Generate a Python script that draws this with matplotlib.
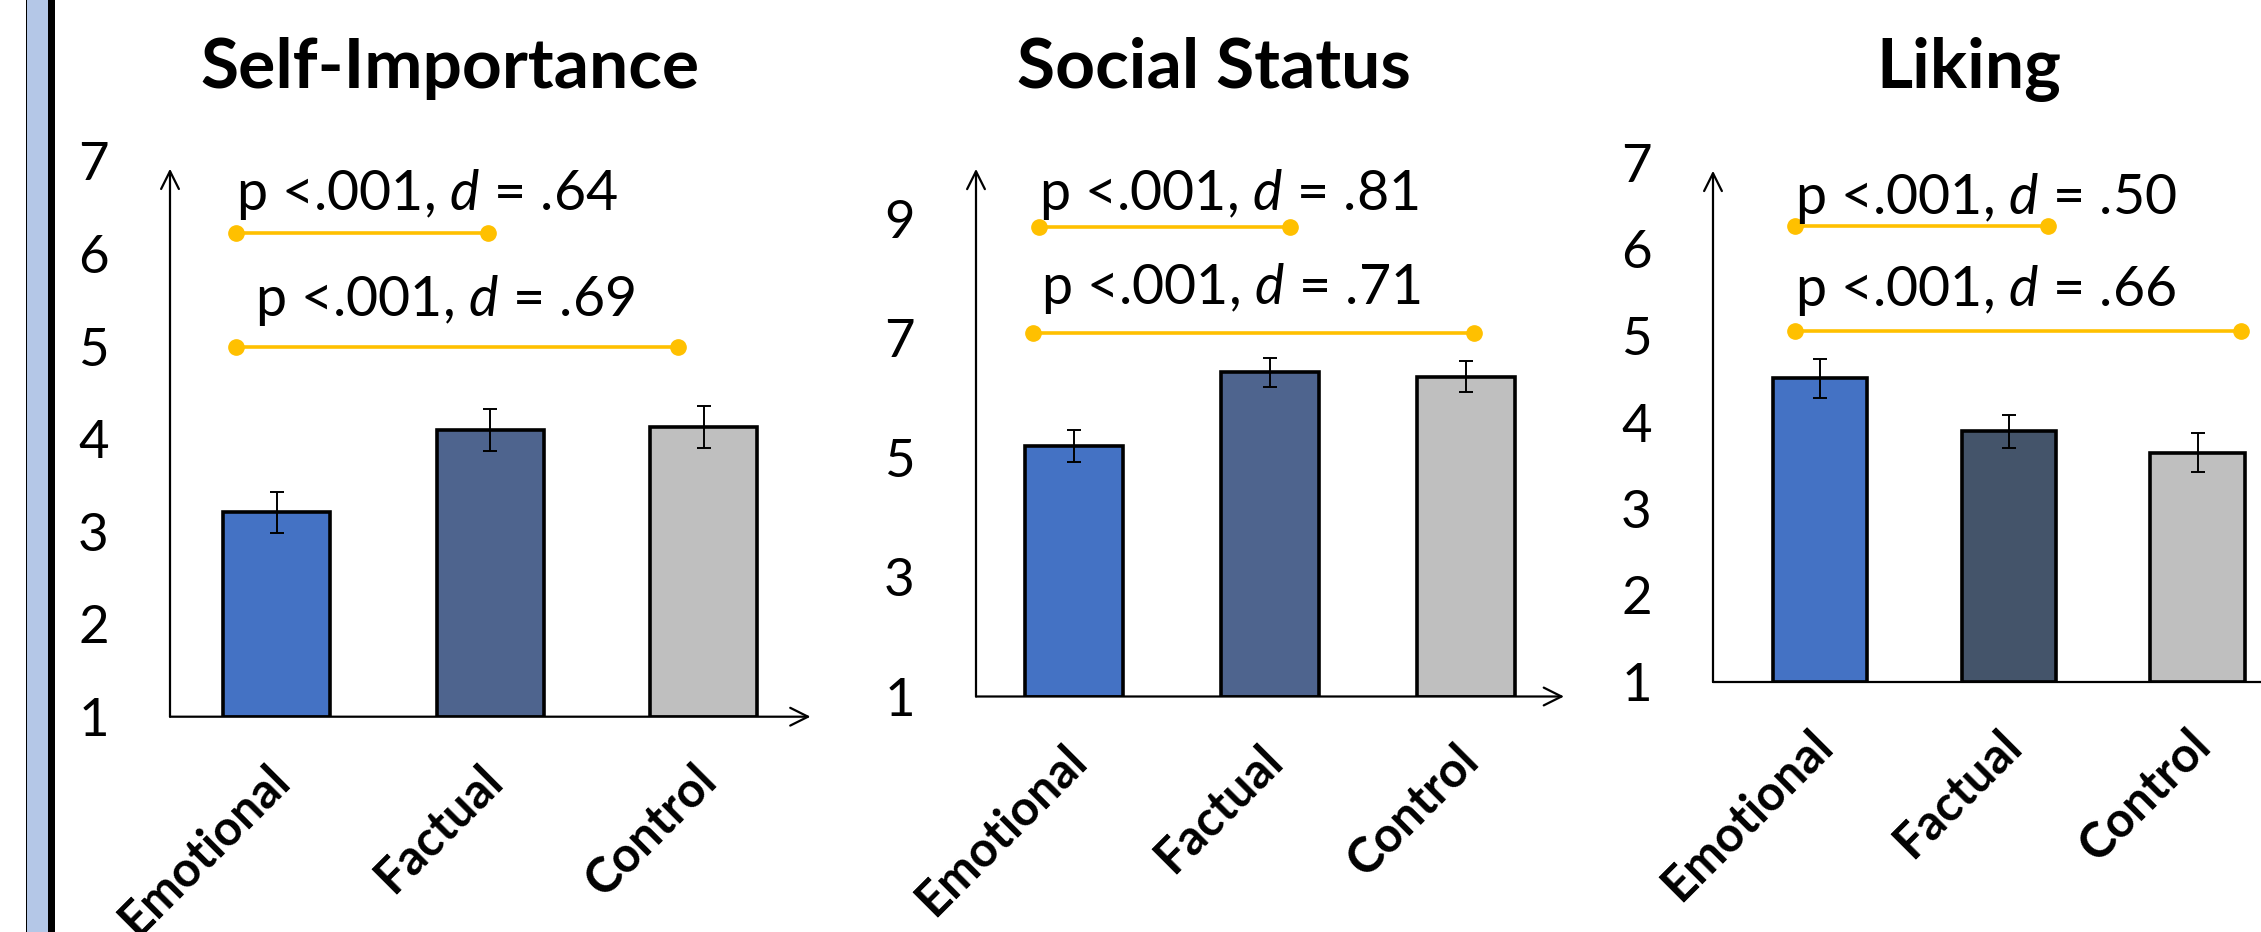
import matplotlib
matplotlib.use("Agg")
import matplotlib.pyplot as plt
from matplotlib.patches import Rectangle
import numpy as np

plt.rcParams['font.family'] = ['Lato', 'DejaVu Sans']
plt.rcParams['mathtext.fontset'] = 'custom'
plt.rcParams['mathtext.rm'] = 'Lato'
plt.rcParams['mathtext.it'] = 'Lato:italic'

# ---------------- data ----------------
categories = ["Emotional", "Factual", "Control"]
titles = ["Self-Importance", "Social Status", "Liking"]

self_importance_means = [3.21, 4.10, 4.13]
self_importance_errs = [0.22, 0.225, 0.23]
social_status_means = [5.20, 6.43, 6.36]
social_status_errs = [0.265, 0.245, 0.265]
liking_means = [4.51, 3.90, 3.65]
liking_errs = [0.225, 0.19, 0.225]

yticks_self = [1, 2, 3, 4, 5, 6, 7]
yticks_status = [1, 3, 5, 7, 9]
yticks_liking = [1, 2, 3, 4, 5, 6, 7]

# significance annotations: (effect size d, line y, line x-start, line x-end, text y)
sig_self = [(".64", 6.23, -0.19, 0.99, 6.64), (".69", 5.00, -0.19, 1.88, 5.50)]
sig_status = [(".81", 8.87, -0.18, 1.10, 9.41), (".71", 7.09, -0.21, 2.04, 7.84)]
sig_liking = [(".50", 6.27, -0.13, 1.21, 6.59), (".66", 5.06, -0.13, 2.23, 5.53)]

# ---------------- figure ----------------
W, H = 2261, 932
fig = plt.figure(figsize=(W / 100, H / 100), dpi=100)

# left decorative border
fig.add_artist(Rectangle((27 / W, 0), 21 / W, 1, transform=fig.transFigure,
                         facecolor="#B4C7E7", edgecolor="none"))
fig.add_artist(Rectangle((25.5 / W, 0), 1.8 / W, 1, transform=fig.transFigure,
                         facecolor="black", edgecolor="none"))
fig.add_artist(Rectangle((48 / W, 0), 7 / W, 1, transform=fig.transFigure,
                         facecolor="black", edgecolor="none"))


def px_axes(left, top, right, bottom):
    return fig.add_axes([left / W, 1 - bottom / H, (right - left) / W, (bottom - top) / H])


panels = [
    dict(ax=px_axes(170, 161.5, 810.5, 716.7), means=self_importance_means, errs=self_importance_errs,
         yticks=yticks_self, ylim=(1, 7), xlim=(-0.5, 2.5), arrow_top=0.987,
         sig=sig_self, title=titles[0], title_x=450,
         colors=["#4472C4", "#4E648E", "#BFBFBF"], text_dx=[0.0, 0.09]),
    dict(ax=px_axes(976, 159.2, 1564, 696.5), means=social_status_means, errs=social_status_errs,
         yticks=yticks_status, ylim=(1, 10), xlim=(-0.5, 2.5), arrow_top=0.982,
         sig=sig_status, title=titles[1], title_x=1214,
         colors=["#4472C4", "#4E648E", "#BFBFBF"], text_dx=[0.0, 0.04]),
    dict(ax=px_axes(1713, 163, 2292, 682), means=liking_means, errs=liking_errs,
         yticks=yticks_liking, ylim=(1, 7), xlim=(-0.566, 2.5), arrow_top=0.985,
         sig=sig_liking, title=titles[2], title_x=1969,
         colors=["#4472C4", "#44546A", "#BFBFBF"], text_dx=[0.0, 0.0]),
]

x = np.arange(len(categories))
for p in panels:
    ax = p["ax"]
    base = p["ylim"][0]
    means = np.array(p["means"])
    ax.bar(x, means - base, bottom=base, width=0.5, color=p["colors"],
           edgecolor="black", linewidth=2.6, zorder=2)
    ax.errorbar(x, means, yerr=p["errs"], fmt="none", ecolor="black",
                elinewidth=1.4, capsize=5, capthick=1.4, zorder=3)
    ax.set_xlim(*p["xlim"])
    ax.set_ylim(*p["ylim"])
    ax.set_yticks(p["yticks"])
    ax.set_yticklabels([str(t) for t in p["yticks"]])
    ax.set_xticks([])
    # rotated category labels
    for xi, cat in zip(x, categories):
        ax.annotate(cat, xy=(xi, base), xycoords="data", xytext=(-8, -29),
                    textcoords="offset points", rotation=45, ha="right", va="top",
                    rotation_mode="anchor", fontweight="bold", fontsize=35,
                    annotation_clip=False)
    ax.tick_params(axis="y", length=0, pad=44, labelsize=38)
    for s in ax.spines.values():
        s.set_visible(False)
    ax.patch.set_alpha(0)
    # arrowed axes
    ax.annotate("", xy=(0, p["arrow_top"]), xytext=(0, 0), xycoords="axes fraction",
                arrowprops=dict(arrowstyle="->", lw=1.6, color="black", mutation_scale=32,
                                shrinkA=0, shrinkB=0), annotation_clip=False)
    ax.annotate("", xy=(1, 0), xytext=(0, 0), xycoords="axes fraction",
                arrowprops=dict(arrowstyle="->", lw=1.6, color="black", mutation_scale=32,
                                shrinkA=0, shrinkB=0), annotation_clip=False)
    # significance lines
    for (d, ly, x0, x1, ty), dx in zip(p["sig"], p["text_dx"]):
        ax.plot([x0, x1], [ly, ly], color="#FFC000", lw=2.6, marker="o",
                markersize=11, solid_capstyle="butt", zorder=4, clip_on=False)
        ax.text(x0 + dx, ty, r"p <.001, $d$ = " + d, fontsize=40, ha="left",
                va="center", zorder=5, clip_on=False)
    fig.text(p["title_x"] / W, 1 - 88 / H, p["title"], fontsize=50, fontweight="bold",
             ha="center", va="baseline")

fig.savefig("out.png", dpi=100)
